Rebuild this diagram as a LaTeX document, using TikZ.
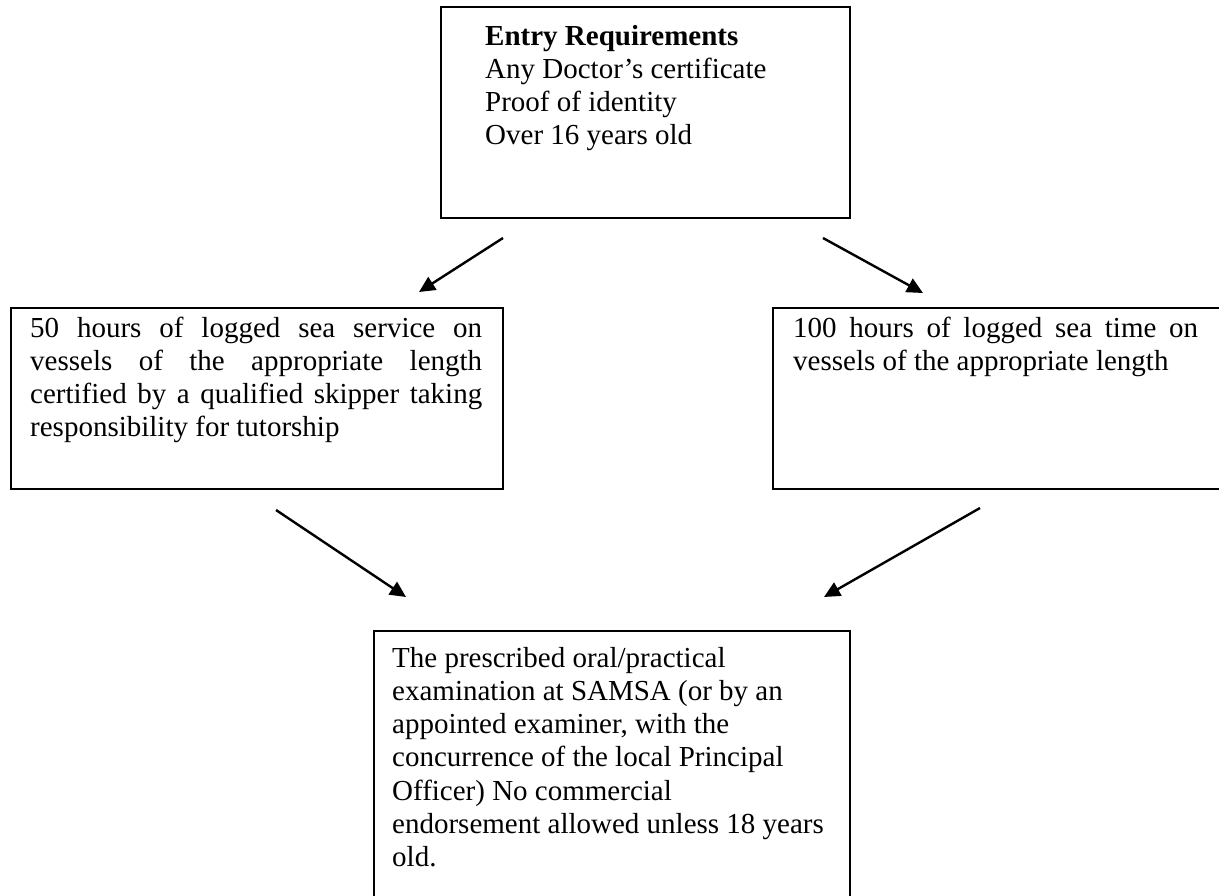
\documentclass[tikz,border=0pt]{standalone}
\usepackage{fontspec}
\setmainfont{Liberation Serif}
\usetikzlibrary{arrows.meta}
\begin{document}
\begin{tikzpicture}[x=1pt,y=-1pt,
  box/.style={draw, line width=1.6pt, inner sep=0pt, anchor=north west},
  txt/.style={anchor=base west, inner sep=0pt, font=\fontsize{29}{33.3}\selectfont},
  conn/.style={line width=2.4pt, -{Triangle[length=16pt,width=15pt]}}]
\useasboundingbox (0,0) rectangle (1219,895);
\clip (0,0) rectangle (1219,895);
% boxes
\node[box, minimum width=409pt, minimum height=211pt] (top) at (440,6) {};
\node[box, minimum width=492pt, minimum height=181pt] (left) at (10,307) {};
\node[box, minimum width=520pt, minimum height=181pt] (right) at (772,307) {};
\node[box, minimum width=476pt, minimum height=300pt] (bottom) at (373,630) {};
% texts
\node[txt] (toptext) at (485,45) {\parbox[t]{350pt}{\textbf{Entry Requirements}\\Any Doctor’s certificate\\Proof of identity\\Over 16 years old}};
\node[txt] (lefttext) at (30,337) {\parbox[t]{452pt}{\makebox[452pt][s]{50 hours of logged sea service on}\\\makebox[452pt][s]{vessels of the appropriate length}\\\makebox[452pt][s]{certified by a qualified skipper taking}\\responsibility for tutorship}};
\node[txt] (righttext) at (793,337) {\parbox[t]{405pt}{\makebox[405pt][s]{100 hours of logged sea time on}\\vessels of the appropriate length}};
\node[txt] (bottomtext) at (392,667) {\parbox[t]{450pt}{The prescribed oral/practical\\examination at SAMSA (or by an\\appointed examiner, with the\\concurrence of the local Principal\\Officer) No commercial\\endorsement allowed unless 18 years\\old.}};
% connector ends
\coordinate (a1s) at (503,238); \coordinate (a1e) at (419,292);
\coordinate (a2s) at (823,238); \coordinate (a2e) at (923,293);
\coordinate (a3s) at (276,510); \coordinate (a3e) at (406,597);
\coordinate (a4s) at (980,508); \coordinate (a4e) at (824,597);
\draw[conn] (a1s) -- (a1e);
\draw[conn] (a2s) -- (a2e);
\draw[conn] (a3s) -- (a3e);
\draw[conn] (a4s) -- (a4e);
\end{tikzpicture}
\end{document}
